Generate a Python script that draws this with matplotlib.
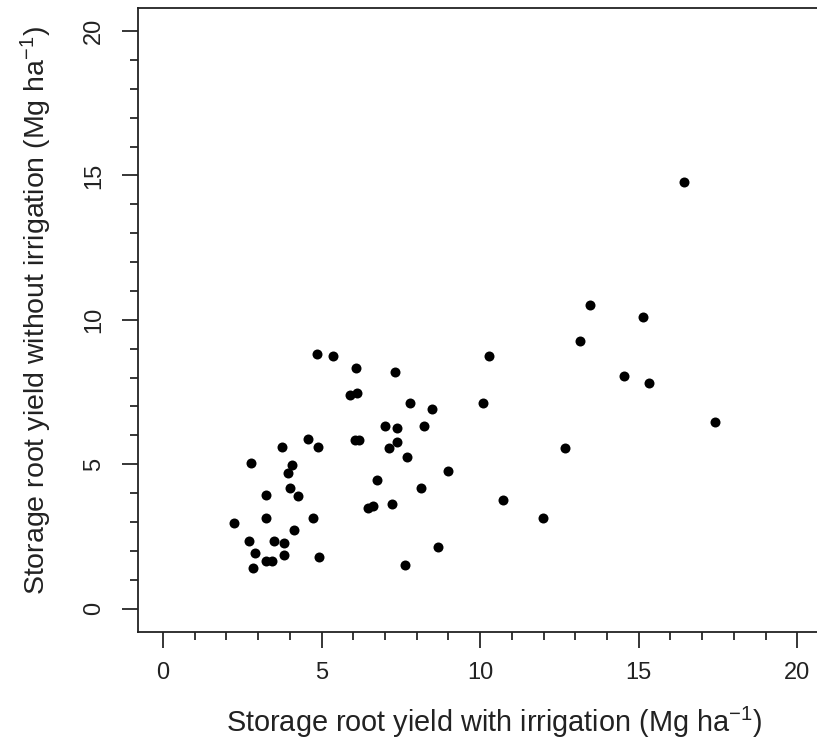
import matplotlib
matplotlib.use("Agg")
import matplotlib.pyplot as plt
from matplotlib.ticker import MultipleLocator

plt.rcParams['font.family'] = ['Liberation Sans', 'DejaVu Sans']
plt.rcParams['mathtext.default'] = 'regular'

# Storage root yield with irrigation (Mg/ha)
with_irrigation = [
    4.86, 5.35, 6.09, 7.31, 5.89, 6.10, 7.80, 7.00, 7.38, 4.56,
    6.05, 6.17, 3.75, 4.87, 7.39, 7.12, 7.69, 2.77, 4.07, 3.94,
    6.76, 4.01, 3.26, 4.26, 6.45, 6.62, 7.21, 2.23, 3.26, 4.73,
    4.12, 2.70, 3.50, 3.82, 2.90, 3.82, 3.26, 3.42, 4.93, 2.84,
    7.63, 8.49, 10.10, 8.23, 8.99, 8.12, 10.71, 11.99, 12.67, 8.68,
    16.43, 13.47, 15.13, 13.16, 10.28, 14.52, 15.32, 17.41,
]
# Storage root yield without irrigation (Mg/ha)
without_irrigation = [
    8.82, 8.75, 8.34, 8.21, 7.39, 7.48, 7.13, 6.32, 6.25, 5.86,
    5.85, 5.85, 5.58, 5.58, 5.78, 5.57, 5.24, 5.04, 4.97, 4.70,
    4.44, 4.16, 3.92, 3.89, 3.49, 3.55, 3.62, 2.95, 3.14, 3.14,
    2.73, 2.35, 2.35, 2.28, 1.93, 1.86, 1.65, 1.65, 1.78, 1.39,
    1.52, 6.92, 7.13, 6.32, 4.77, 4.16, 3.75, 3.14, 5.57, 2.13,
    14.76, 10.50, 10.10, 9.28, 8.75, 8.07, 7.80, 6.45,
]
major_ticks = [0, 5, 10, 15, 20]

fig = plt.figure(figsize=(8.17, 7.46), dpi=100)
ax = fig.add_axes([137.7 / 817, 1 - 631.7 / 746, (822.7 - 137.7) / 817, (631.7 - 8) / 746])

ax.plot(with_irrigation, without_irrigation, 'o', color='black',
        markersize=7.2, markeredgewidth=0, clip_on=False)

ax.set_xlim(-0.8, 20.8)
ax.set_ylim(-0.8, 20.8)
ax.set_xticks(major_ticks)
ax.set_yticks(major_ticks)
ax.set_xticklabels([str(t) for t in major_ticks])
ax.set_yticklabels([str(t) for t in major_ticks], rotation=90, va='center')
ax.xaxis.set_minor_locator(MultipleLocator(1))
ax.yaxis.set_minor_locator(MultipleLocator(1))
ax.tick_params(which='major', length=11.5, width=1.1, color='black',
               labelsize=17, labelcolor='#222222')
ax.tick_params(which='minor', length=5.8, width=1.1, color='black')
ax.tick_params(axis='x', pad=10)
ax.tick_params(axis='y', pad=12)
for sp in ax.spines.values():
    sp.set_linewidth(1.3)
    sp.set_color('#222222')

ax.set_xlabel('Storage root yield with irrigation (Mg ha$^{-1}$)',
              fontsize=20.8, color='#222222', labelpad=15)
ax.set_ylabel('Storage root yield without irrigation (Mg ha$^{-1}$)',
              fontsize=20.5, color='#222222', labelpad=21)
ax.xaxis.label.set_x(0.52)
ax.yaxis.label.set_y(0.515)

fig.savefig('out.png', dpi=100, facecolor='white')
